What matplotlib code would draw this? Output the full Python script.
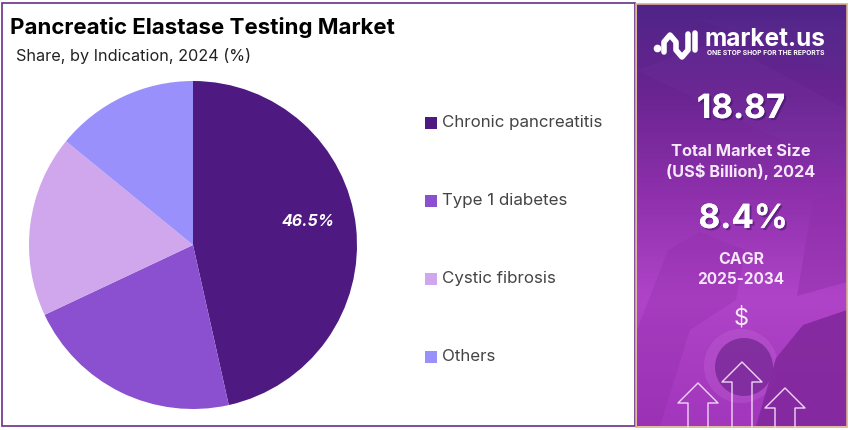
import numpy as np
import matplotlib
matplotlib.use('Agg')
import matplotlib.pyplot as plt
import matplotlib.patheffects as pe
from matplotlib.patches import Rectangle, Circle, Polygon
from matplotlib.colors import LinearSegmentedColormap

# Data
categories = ['Chronic pancreatitis', 'Type 1 diabetes', 'Cystic fibrosis', 'Others']
shares = [46.5, 21.5, 17.9, 14.1]
colors = ['#4E1A82', '#8A50D0', '#D0A6EC', '#9A90FC']
shown_label = '46.5%'
market_size = '18.87'
cagr = '8.4%'

W, H = 849, 430
plt.rcParams['font.family'] = ['Inter', 'DejaVu Sans']

fig = plt.figure(figsize=(W / 100, H / 100), dpi=100, facecolor='white')

# full-figure axes in pixel coords for text and decoration
bg = fig.add_axes([0, 0, 1, 1])
bg.set_xlim(0, W)
bg.set_ylim(H, 0)
bg.axis('off')

# left frame
bg.add_patch(Rectangle((2, 3), 633, 423, fill=False, ec='#6B2D86', lw=1.2))

# ==== right panel ====
cmap = LinearSegmentedColormap.from_list(
    'panel', [(0, '#4F2488'), (0.2, '#682490'), (0.45, '#8E30AC'), (0.7, '#B044C8'), (1, '#A236BC')])
grad = np.linspace(0, 1, 256).reshape(-1, 1)
bg.imshow(grad, extent=(637, 847, 426, 4), cmap=cmap, aspect='auto', zorder=1)
bg.set_xlim(0, W)
bg.set_ylim(H, 0)

# background photo shapes
bg.add_patch(Polygon([(700, 20), (847, 75), (847, 20)], fc='#5A2D90', alpha=0.4, ec='none', zorder=2))
bg.add_patch(Polygon([(637, 70), (720, 40), (847, 110), (847, 170), (760, 130)],
                     fc='#7A3AA8', alpha=0.18, ec='none', zorder=2))
bg.add_patch(Polygon([(813, 200), (847, 190), (847, 282), (797, 296)],
                     fc='#8E2EA8', alpha=0.45, ec='none', zorder=2))
bg.add_patch(Polygon([(668, 250), (700, 232), (745, 250), (736, 300), (690, 330), (660, 426), (637, 426), (637, 330)],
                     fc='#8E2CA8', alpha=0.3, ec='none', zorder=2))
bg.add_patch(Circle((741, 366), 37, fc='#C468D6', alpha=0.3, ec='none', zorder=2))
bg.add_patch(Circle((744, 367), 29, fc='#7D2C9C', alpha=0.9, ec='none', zorder=2))
bg.add_patch(Polygon([(756, 426), (776, 358), (803, 325), (847, 310), (847, 426)],
                     fc='#84299F', alpha=0.95, ec='none', zorder=3))
bg.add_patch(Rectangle((636.5, 3.5), 211, 423, fill=False, ec='#D9AE8C', lw=1.2, zorder=6))

# logo
bg.plot([664, 664, 670, 676, 676, 682, 688, 688], [52, 42, 35, 42, 50, 57, 50, 34],
        color='white', lw=4, solid_capstyle='round', zorder=7)
bg.plot([695, 695], [33, 50], color='white', lw=4, solid_capstyle='round', zorder=7)
bg.plot([657.5], [48], 'o', color='white', ms=4.5, zorder=7)
bg.text(705, 39.5, 'market.us', color='white', fontsize=17.6, fontweight='bold',
        ha='left', va='center', zorder=7)
bg.text(707, 53, 'ONE STOP SHOP FOR THE REPORTS', color='white', fontsize=4.8,
        fontweight='bold', ha='left', va='center', zorder=7)

cx = 741
big_fx = [pe.withSimplePatchShadow(offset=(1.5, -1.5), shadow_rgbFace='#3A1060', alpha=0.5), pe.Normal()]
t = bg.text(cx, 109, market_size, color='white', fontsize=24, fontweight='bold',
            ha='center', va='center', zorder=7)
t.set_path_effects(big_fx)
bg.text(cx, 152, 'Total Market Size', color='#F6E8FA', fontsize=11.8, fontweight='bold',
        ha='center', va='center', zorder=7)
bg.text(cx, 171, '(US$ Billion), 2024', color='#F6E8FA', fontsize=11.7, fontweight='bold',
        ha='center', va='center', zorder=7)
t = bg.text(cx + 2, 219, cagr, color='white', fontsize=24, fontweight='bold',
            ha='center', va='center', zorder=7)
t.set_path_effects(big_fx)
bg.text(cx, 260, 'CAGR', color='#F6E8FA', fontsize=11.5, fontweight='bold',
        ha='center', va='center', zorder=7)
bg.text(cx, 279, '2025-2034', color='#F6E8FA', fontsize=11, fontweight='bold',
        ha='center', va='center', zorder=7)
bg.text(741, 318, '$', color='#F6E8FA', fontsize=17, ha='center', va='center', zorder=7)

# arrows at the bottom
for ax_x, tip, wing in [(698, 383, 403), (742, 362, 382), (785, 388, 408)]:
    bg.plot([ax_x - 10, ax_x - 10, ax_x - 20, ax_x, ax_x + 20, ax_x + 10, ax_x + 10],
            [427, wing, wing, tip, wing, wing, 427], color='#F3D6F6', lw=1, zorder=7)

# ==== title and legend ====
bg.text(10, 27, 'Pancreatic Elastase Testing Market', color='black', fontsize=16,
        fontweight='bold', ha='left', va='center')
bg.text(16, 56, 'Share, by Indication, 2024 (%)', color='#222222', fontsize=11.7,
        ha='left', va='center')

legend_y = [122, 200, 278, 356]
for name, col, y in zip(categories, colors, legend_y):
    bg.add_patch(Rectangle((425, y - 5.5), 12, 12, fc=col, ec='none'))
    bg.text(442, y + 0.5, name, color='#444444', fontsize=12.2, ha='left', va='center')

# ==== pie ====
cpx, cpy, r = 193, 245, 164
ax = fig.add_axes([(cpx - r) / W, 1 - (cpy + r) / H, 2 * r / W, 2 * r / H])
ax.pie(shares, colors=colors, startangle=90, counterclock=False, radius=1,
       wedgeprops=dict(linewidth=0))
ax.set_xlim(-1, 1)
ax.set_ylim(-1, 1)
ax.text(0.7, 0.145, shown_label, color='white', fontsize=11.5, fontweight='bold', style='italic',
        ha='center', va='center')

fig.savefig('out.png', dpi=100)
